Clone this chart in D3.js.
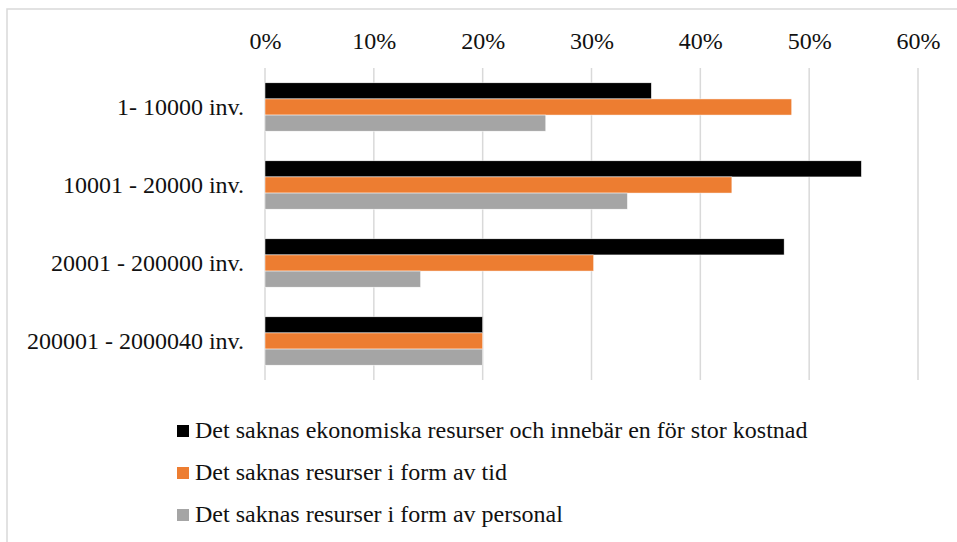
<!DOCTYPE html>
<html>
<head>
<meta charset="utf-8">
<script src="https://cdn.jsdelivr.net/npm/d3@7"></script>
<style>
  body { margin: 0; background: #fff; }
  svg { display: block; }
  svg text { font-family: "Liberation Serif", "Times New Roman", "DejaVu Serif", serif; }
</style>
</head>
<body>
<svg width="957" height="542"></svg>
<script>
// data
const categories = ["1- 10000 inv.", "10001 - 20000 inv.", "20001 - 200000 inv.", "200001 - 2000040 inv."];
const seriesNames = [
  "Det saknas ekonomiska resurser och innebär en för stor kostnad",
  "Det saknas resurser i form av tid",
  "Det saknas resurser i form av personal"
];
const ekonomi = [0.355, 0.548, 0.477, 0.20];
const tid = [0.484, 0.429, 0.302, 0.20];
const personal = [0.258, 0.333, 0.143, 0.20];
const ticks = [0, 0.1, 0.2, 0.3, 0.4, 0.5, 0.6];
const colors = ["#000000", "#ED7D31", "#A5A5A5"];

const values = [ekonomi, tid, personal];
const fontSize = "24px";

const svg = d3.select("svg");

// outer chart frame (only top/left visible in the crop)
svg.append("rect")
  .attr("x", 7).attr("y", 9)
  .attr("width", 1000).attr("height", 600)
  .attr("fill", "none")
  .attr("stroke", "#d9d9d9")
  .attr("stroke-width", 1.5);

const x = d3.scaleLinear().domain([0, 0.6]).range([265, 918]);
const y = d3.scaleBand().domain(categories).range([68, 380]).paddingInner(0.38).paddingOuter(0.19);
const ySub = d3.scaleBand().domain(d3.range(seriesNames.length)).range([0, y.bandwidth()]);

// gridlines
svg.append("g")
  .selectAll("line")
  .data(ticks)
  .enter()
  .append("line")
  .attr("x1", d => x(d)).attr("x2", d => x(d))
  .attr("y1", 68).attr("y2", 380)
  .attr("stroke", "#d9d9d9")
  .attr("stroke-width", 1.5);

// top axis labels
const xAxis = d3.axisTop(x).tickValues(ticks).tickFormat(d3.format(".0%")).tickSize(0).tickPadding(0);
const ax = svg.append("g").attr("transform", "translate(0,49)").call(xAxis);
ax.attr("font-family", null);
ax.select(".domain").remove();
ax.selectAll("text")
  .attr("dy", 0)
  .style("font-size", fontSize)
  .attr("fill", "#111");

// category labels
const yAxis = d3.axisLeft(y).tickSize(0).tickPadding(21);
const ay = svg.append("g").attr("transform", "translate(265,0)").call(yAxis);
ay.attr("font-family", null);
ay.select(".domain").remove();
ay.selectAll("text")
  .style("font-size", fontSize)
  .attr("fill", "#111");

// bars
const groups = svg.append("g")
  .selectAll("g")
  .data(categories)
  .enter()
  .append("g")
  .attr("transform", d => `translate(0,${y(d)})`);

groups.selectAll("rect")
  .data((c, i) => values.map((s, k) => ({ k: k, v: s[i] })))
  .enter()
  .append("rect")
  .attr("x", x(0))
  .attr("y", d => ySub(d.k))
  .attr("width", d => x(d.v) - x(0))
  .attr("height", ySub.bandwidth())
  .attr("fill", d => colors[d.k])
  .attr("stroke", "#ffffff")
  .attr("stroke-width", 0.5);

// legend
const legend = svg.append("g")
  .selectAll("g")
  .data(seriesNames)
  .enter()
  .append("g")
  .attr("transform", (d, i) => `translate(177,${425 + i * 42})`);

legend.append("rect")
  .attr("width", 12).attr("height", 12)
  .attr("fill", (d, i) => colors[i]);

legend.append("text")
  .attr("x", 18).attr("y", 13)
  .style("font-size", fontSize)
  .attr("fill", "#111")
  .text(d => d);
</script>
</body>
</html>
